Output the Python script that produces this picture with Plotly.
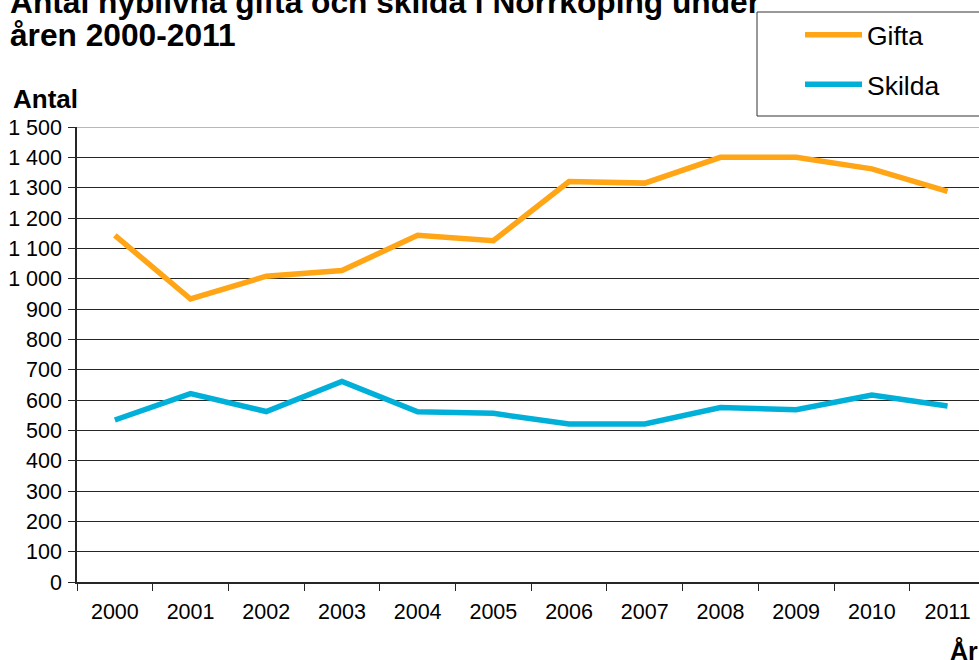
import plotly.graph_objects as go

years = ["2000", "2001", "2002", "2003", "2004", "2005",
         "2006", "2007", "2008", "2009", "2010", "2011"]
gifta = [1143, 933, 1008, 1027, 1143, 1125, 1320, 1315, 1400, 1400, 1362, 1288]
skilda = [534, 621, 562, 661, 561, 556, 521, 521, 575, 568, 616, 580]

title_line1 = "Antal nyblivna gifta och skilda i Norrköping under"
title_line2 = "åren 2000-2011"
y_title = "Antal"
x_title = "År"

W, H = 979, 660
ML, MR, MT, MB = 77, 0, 127, 78
PH = H - MT - MB
PW = W - ML - MR


def py(ypix):
    return (H - MB - ypix) / PH


def px(xpix):
    return (xpix - ML) / PW


FONT = "Liberation Sans, Arial, sans-serif"
ORANGE = "#FFA516"
BLUE = "#00B0D8"
DARK = "#262626"

fig = go.Figure()
fig.add_trace(go.Scatter(x=years, y=gifta, name="Gifta", mode="lines",
                         line=dict(color=ORANGE, width=5.5), legendgroup="a"))
fig.add_trace(go.Scatter(x=years, y=skilda, name="Skilda", mode="lines",
                         line=dict(color=BLUE, width=5.5), legendgroup="b"))

fig.update_layout(
    width=W, height=H,
    margin=dict(l=ML, r=MR, t=MT, b=MB, autoexpand=False),
    plot_bgcolor="white", paper_bgcolor="white",
    separators=", ",
    font=dict(family=FONT, color="black"),
    showlegend=True,
    legend=dict(
        x=px(757), y=py(11), xanchor="left", yanchor="top",
        borderwidth=0, bgcolor="rgba(0,0,0,0)",
        font=dict(size=26.5, family=FONT),
        indentation=43, itemwidth=57, tracegroupgap=12,
        traceorder="grouped",
    ),
    xaxis=dict(
        type="category", range=[-0.5, -0.5 + PW / 75.7],
        tickson="boundaries", ticks="outside", ticklen=7, tickcolor=DARK,
        showline=True, linecolor=DARK, linewidth=1.5, showgrid=False,
        tickfont=dict(size=21.5), ticklabelstandoff=9, fixedrange=True,
    ),
    yaxis=dict(
        range=[0, 1500], dtick=100, tickformat=",d",
        ticks="outside", ticklen=7, tickcolor=DARK,
        showline=True, linecolor=DARK, linewidth=1.5,
        showgrid=True, gridcolor=DARK, gridwidth=1, zeroline=False,
        tickfont=dict(size=21.5), ticklabelstandoff=2, fixedrange=True,
    ),
    shapes=[
        dict(type="line", xref="paper", yref="y", x0=0, x1=1, y0=1500, y1=1500,
             line=dict(color="#A0A0A0", width=1.5), layer="above"),
        dict(type="rect", xref="paper", yref="paper",
             x0=px(757), x1=px(1000), y0=py(116), y1=py(12),
             line=dict(color="#333333", width=1), fillcolor="white", layer="below"),
    ],
    annotations=[
        dict(text="<b>" + title_line1 + "</b>", xref="paper", yref="paper",
             x=px(8), y=py(2), xanchor="left", yanchor="middle", showarrow=False,
             font=dict(size=31.7, family=FONT)),
        dict(text="<b>" + title_line2 + "</b>", xref="paper", yref="paper",
             x=px(8), y=py(35), xanchor="left", yanchor="middle", showarrow=False,
             font=dict(size=31.7, family=FONT)),
        dict(text="<b>" + y_title + "</b>", xref="paper", yref="paper",
             x=px(11), y=py(99), xanchor="left", yanchor="middle", showarrow=False,
             font=dict(size=26, family=FONT)),
        dict(text="<b>" + x_title + "</b>", xref="paper", yref="paper",
             x=px(948), y=py(651), xanchor="left", yanchor="middle", showarrow=False,
             font=dict(size=25, family=FONT)),
    ],
)

fig.write_html("out.html", config={"displayModeBar": False},
               post_script="document.body.style.margin='0';")
